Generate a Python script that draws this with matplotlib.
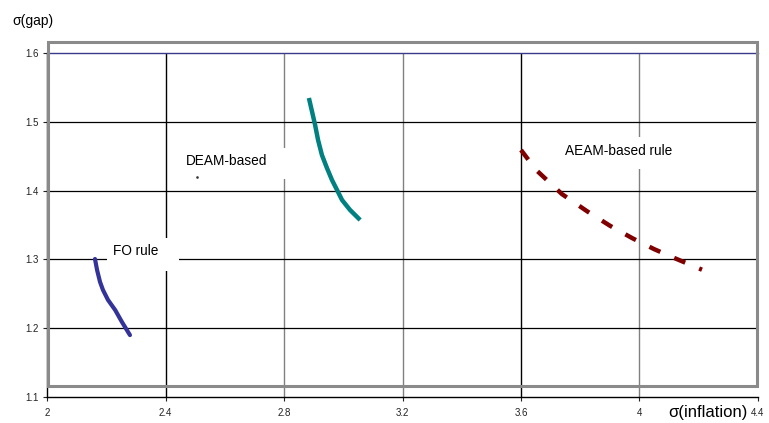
import matplotlib
matplotlib.use("Agg")
import matplotlib.pyplot as plt
from matplotlib.patches import Rectangle

plt.rcParams['font.family'] = ['Liberation Sans', 'DejaVu Sans']

# Data
fo_x = [2.162, 2.169, 2.179, 2.189, 2.206, 2.230, 2.253, 2.280]
fo_y = [1.3006, 1.2846, 1.2672, 1.2555, 1.241, 1.2265, 1.209, 1.190]

deam_x = [2.884, 2.895, 2.905, 2.915, 2.928, 2.945, 2.962, 2.979, 2.996, 3.023, 3.057]
deam_y = [1.5346, 1.5142, 1.4953, 1.4735, 1.4517, 1.4328, 1.4154, 1.4009, 1.3863, 1.3718, 1.3573]

aeam_x = [3.600, 3.651, 3.738, 3.823, 3.900, 3.975, 4.049, 4.123, 4.211]
aeam_y = [1.459, 1.430, 1.395, 1.370, 1.349, 1.331, 1.315, 1.301, 1.285]

x_ticks = [2, 2.4, 2.8, 3.2, 3.6, 4, 4.4]
x_tick_labels = ["2", "2.4", "2.8", "3.2", "3.6", "4", "4.4"]
y_ticks = [1.1, 1.2, 1.3, 1.4, 1.5, 1.6]
y_tick_labels = ["1.1", "1.2", "1.3", "1.4", "1.5", "1.6"]

W, H = 769, 423
fig = plt.figure(figsize=(W / 100, H / 100), dpi=100)
ax = fig.add_axes([47 / W, 1 - 397 / H, (758 - 47) / W, (397 - 53) / H])
ax.set_xlim(2, 4.4)
ax.set_ylim(1.1, 1.6)


def px_x(p):
    return 2 + (p - 47) / 296.25


def px_y(p):
    return 1.6 - (p - 53) / 688.0


# grid lines
grid_cols = {2.4: 'black', 2.8: '#808080', 3.2: '#808080', 3.6: 'black', 4: '#808080'}
for xv, c in grid_cols.items():
    ax.axvline(xv, color=c, lw=1.0, zorder=1)
for yv in [1.2, 1.3, 1.4, 1.5]:
    ax.axhline(yv, color='black', lw=0.9, zorder=1)

ax.spines['right'].set_visible(False)
ax.spines['top'].set_color('#3a3a8a')
ax.spines['top'].set_linewidth(1.0)
ax.spines['left'].set_color('black')
ax.spines['bottom'].set_color('black')
ax.spines['left'].set_linewidth(1.0)
ax.spines['bottom'].set_linewidth(1.0)

ax.set_xticks(x_ticks)
ax.set_xticklabels(x_tick_labels)
ax.set_yticks(y_ticks)
ax.set_yticklabels(y_tick_labels)
ax.tick_params(axis='both', labelsize=7, colors='#222222', length=3, width=0.8)
ax.tick_params(axis='x', pad=5)
ax.tick_params(axis='y', pad=3)

# series
ax.plot(fo_x, fo_y, color='#333399', lw=3.0, solid_capstyle='round',
        solid_joinstyle='round', zorder=3)
ax.plot(deam_x, deam_y, color='#008080', lw=3.2, solid_capstyle='butt',
        solid_joinstyle='round', zorder=3)
ax.plot(aeam_x, aeam_y, color='#800000', lw=3.2, linestyle=(0, (2.7, 3.4)), zorder=3)

# label boxes (white, covering grid lines)
for (x0, x1, y0, y1) in [(107, 179, 238, 271), (172, 290, 148, 179), (553, 685, 137, 169)]:
    ax.add_patch(Rectangle((px_x(x0), px_y(y1)), px_x(x1) - px_x(x0), px_y(y0) - px_y(y1),
                           facecolor='white', edgecolor='none', zorder=2))

ax.text(px_x(136), px_y(251), "FO rule", fontsize=9.8, ha='center', va='center', zorder=4)
ax.text(px_x(227), px_y(161), "DEAM-based", fontsize=9.8, ha='center', va='center', zorder=4)
ax.text(px_x(619), px_y(151), "AEAM-based rule", fontsize=9.8, ha='center', va='center', zorder=4)
ax.plot([px_x(197)], [px_y(177)], marker='s', ms=0.8, color='#333333', zorder=5)

# gray offset frame (figure coordinates)
fig.patches.append(Rectangle((48 / W, 1 - 386 / H), (757 - 48) / W, (386 - 42) / H,
                             transform=fig.transFigure, fill=False,
                             edgecolor='#8a8a8a', lw=2.2, zorder=10))

fig.text(12 / W, 1 - 21 / H, "σ(gap)", fontsize=10, ha='left', va='center')
fig.text(708 / W, 1 - 412 / H, "σ(inflation)", fontsize=12, ha='center', va='center')

fig.savefig("out.png", dpi=100, facecolor='white')
